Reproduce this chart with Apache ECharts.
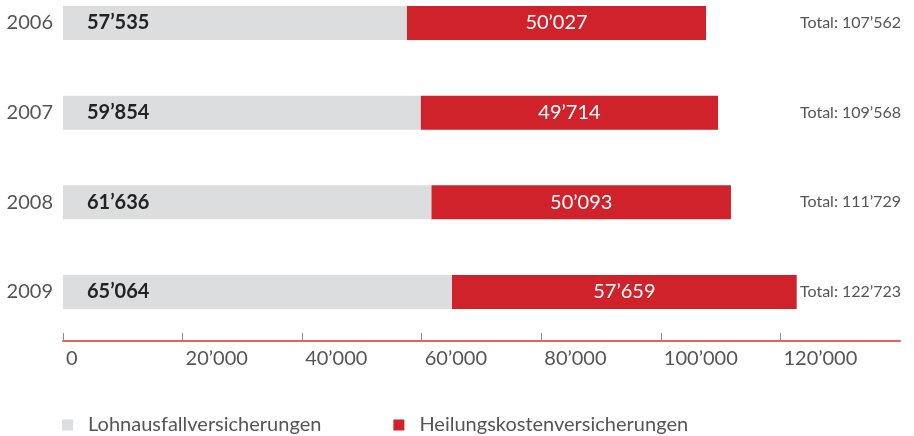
<!DOCTYPE html>
<html>
<head>
<meta charset="utf-8">
<script src="https://cdn.jsdelivr.net/npm/echarts@6/dist/echarts.min.js"></script>
<style>
html, body { margin: 0; padding: 0; background: #fff; }
#main { width: 914px; height: 436px; }
</style>
</head>
<body>
<div id="main"></div>
<script>
var years = ['2006', '2007', '2008', '2009'];
var lohn = [57535, 59854, 61636, 65064];
var heilung = [50027, 49714, 50093, 57659];
var totals = [107562, 109568, 111729, 122723];
var tickValues = [0, 20000, 40000, 60000, 80000, 100000, 120000];
var seriesNames = ['Lohnausfallversicherungen', 'Heilungskostenversicherungen'];

var fontName = 'Lato';
var chart = echarts.init(document.getElementById('main'));

// 57535 -> 57’535
function fmt(v) {
    return String(v).replace(/\B(?=(\d{3})+(?!\d))/g, '\u2019');
}

chart.setOption({
    animation: false,
    textStyle: { fontFamily: fontName },
    grid: { left: 63, right: 14, top: 23, bottom: 144 },
    legend: {
        left: 57,
        top: 410,
        icon: 'rect',
        itemWidth: 11,
        itemHeight: 11,
        itemGap: 72,
        textStyle: { fontSize: 20, color: '#555', fontFamily: fontName, padding: [0, 0, 0, 10] },
        data: seriesNames
    },
    xAxis: {
        type: 'value',
        min: 0,
        max: 140000,
        offset: 49,
        splitLine: { show: false },
        axisLine: { show: true, lineStyle: { color: '#e06366', width: 2 } },
        axisTick: {
            show: true, inside: true, length: 8,
            customValues: tickValues,
            lineStyle: { color: '#8a8f96', width: 1 }
        },
        axisLabel: {
            customValues: tickValues,
            align: 'left',
            margin: 8,
            padding: [0, 0, 0, 3],
            color: '#555',
            fontSize: 20,
            fontFamily: fontName,
            formatter: function (v) { return fmt(v); }
        }
    },
    yAxis: [{
        type: 'category',
        inverse: true,
        boundaryGap: false,
        data: years,
        axisLine: { show: false },
        axisTick: { show: false },
        axisLabel: { color: '#555', fontSize: 20, margin: 10, fontFamily: fontName }
    }, {
        type: 'category',
        inverse: true,
        boundaryGap: false,
        position: 'right',
        offset: -100,
        data: totals.map(function (t) { return 'Total: ' + fmt(t); }),
        axisLine: { show: false },
        axisTick: { show: false },
        axisLabel: { color: '#555', fontSize: 16, margin: 0, fontFamily: fontName }
    }],
    series: [{
        name: seriesNames[0],
        type: 'bar',
        stack: 'total',
        barWidth: 34,
        data: lohn,
        itemStyle: { color: '#dcdddf' },
        label: {
            show: true,
            position: 'insideLeft',
            distance: 24,
            color: '#222',
            fontSize: 20,
            fontWeight: 'bold',
            fontFamily: fontName,
            formatter: function (p) { return fmt(p.value); }
        }
    }, {
        name: seriesNames[1],
        type: 'bar',
        stack: 'total',
        barWidth: 34,
        data: heilung,
        itemStyle: { color: '#d0222b' },
        label: {
            show: true,
            position: 'inside',
            color: '#fff',
            fontSize: 20,
            fontFamily: fontName,
            formatter: function (p) { return fmt(p.value); }
        }
    }]
});
</script>
</body>
</html>
